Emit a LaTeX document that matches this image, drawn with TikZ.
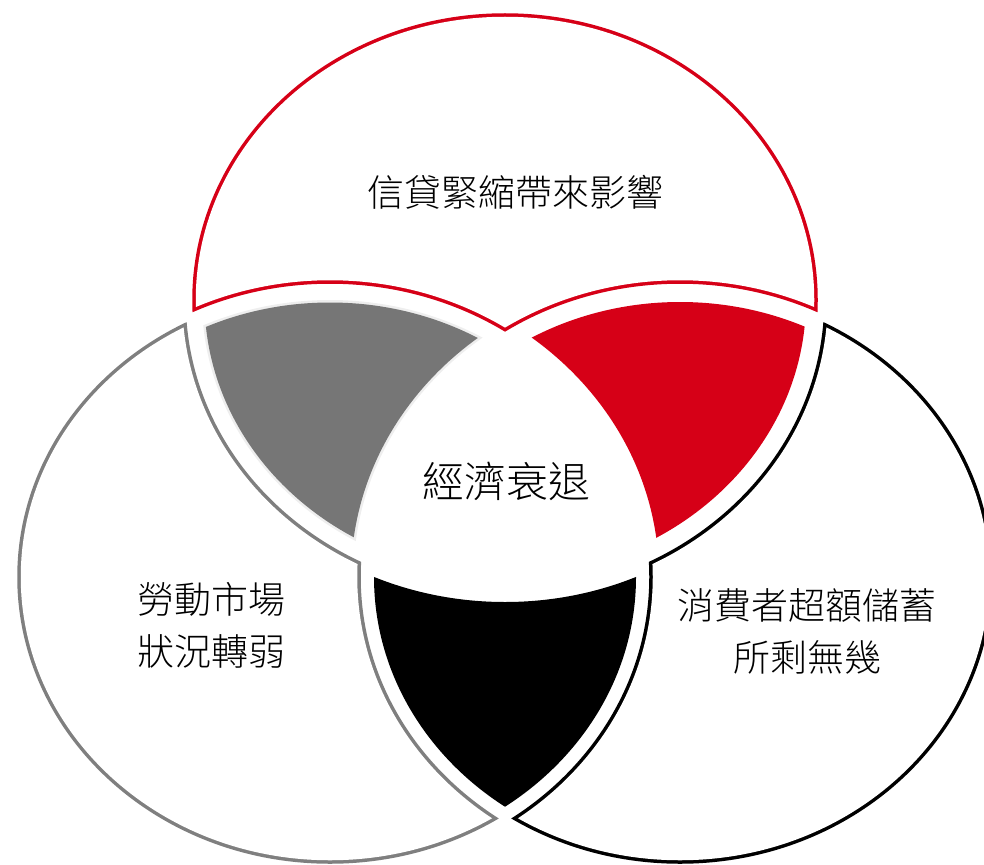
\documentclass[tikz,border=0pt]{standalone}
\usepackage{fontspec}
\newfontfamily\cjkfont{Noto Sans CJK TC Light}
\definecolor{vred}{HTML}{D60017}
\definecolor{vline}{HTML}{7F7F7F}
\definecolor{vfill}{HTML}{767676}
\definecolor{vedge}{HTML}{EEEEEE}
\newcommand\Ell[2]{(#1) ellipse [x radius={311pt+(#2pt)}, y radius={285pt+(#2pt)}]}
\newcommand\Outside[2]{(-20,-20) -- (1004,-20) -- (1004,884) -- (-20,884) -- cycle \Ell{#1}{#2}}
\newcommand\Canvas{(-20,-20) rectangle (1004,884)}
\begin{document}
\begin{tikzpicture}[x=1pt,y=-1pt,
  txt/.style={font=\cjkfont\fontsize{37}{52}\selectfont, align=center, inner sep=0pt, text=black},
  bigtxt/.style={font=\cjkfont\fontsize{42}{52}\selectfont, align=center, inner sep=0pt, text=black}]
\useasboundingbox (0,0) rectangle (984,864);
\clip (0,0) rectangle (984,864);
\coordinate (cT) at (505,300);
\coordinate (cL) at (330,577);
\coordinate (cR) at (680,577);
% exclusive region of top circle (red outline)
\begin{scope}
  \clip \Ell{cT}{1.75}; \clip \Outside{cL}{8.25}; \clip \Outside{cR}{8.25};
  \fill[vred] \Canvas;
\end{scope}
\begin{scope}
  \clip \Ell{cT}{-1.75}; \clip \Outside{cL}{11.75}; \clip \Outside{cR}{11.75};
  \fill[white] \Canvas;
\end{scope}
% exclusive region of left circle (gray outline)
\begin{scope}
  \clip \Ell{cL}{1.75}; \clip \Outside{cT}{8.25}; \clip \Outside{cR}{8.25};
  \fill[vline] \Canvas;
\end{scope}
\begin{scope}
  \clip \Ell{cL}{-1.75}; \clip \Outside{cT}{11.75}; \clip \Outside{cR}{11.75};
  \fill[white] \Canvas;
\end{scope}
% exclusive region of right circle (black outline)
\begin{scope}
  \clip \Ell{cR}{1.75}; \clip \Outside{cT}{8.25}; \clip \Outside{cL}{8.25};
  \fill[black] \Canvas;
\end{scope}
\begin{scope}
  \clip \Ell{cR}{-1.75}; \clip \Outside{cT}{11.75}; \clip \Outside{cL}{11.75};
  \fill[white] \Canvas;
\end{scope}
% top-left overlap (gray fill with light edge)
\begin{scope}
  \clip \Ell{cT}{-8}; \clip \Ell{cL}{-8}; \clip \Outside{cR}{15.5};
  \fill[vedge] \Canvas;
\end{scope}
\begin{scope}
  \clip \Ell{cT}{-10.5}; \clip \Ell{cL}{-10.5}; \clip \Outside{cR}{18};
  \fill[vfill] \Canvas;
\end{scope}
% top-right overlap (red fill)
\begin{scope}
  \clip \Ell{cT}{-10}; \clip \Ell{cR}{-10}; \clip \Outside{cL}{18};
  \fill[vred] \Canvas;
\end{scope}
% bottom overlap (black fill)
\begin{scope}
  \clip \Ell{cL}{-5}; \clip \Ell{cR}{-5}; \clip \Outside{cT}{17};
  \fill[black] \Canvas;
\end{scope}
% labels
\node[txt] (credit) at (515,192) {信貸緊縮帶來影響};
\node[bigtxt] (recession) at (506,481) {經濟衰退};
\node[txt] (labour) at (211,625) {勞動市場\\狀況轉弱};
\node[txt] (savings) at (807,631) {消費者超額儲蓄\\所剩無幾};
\end{tikzpicture}
\end{document}
